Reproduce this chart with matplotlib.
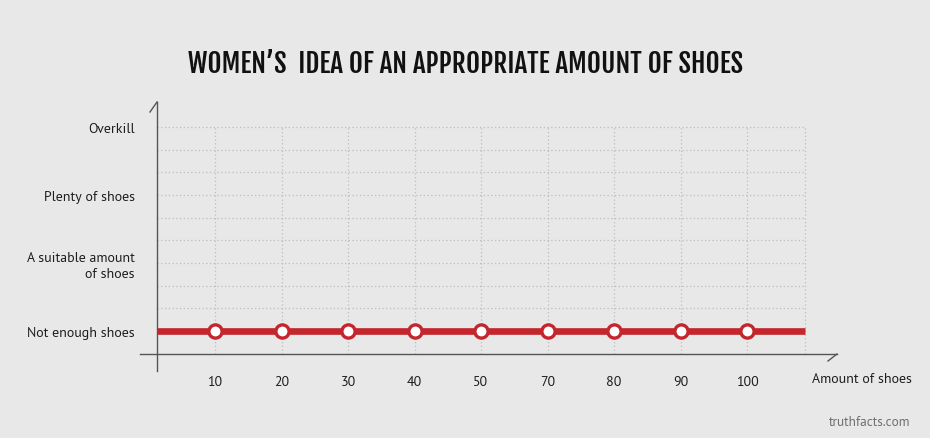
import numpy as np
import matplotlib.pyplot as plt
import matplotlib as mpl

mpl.rcParams['font.family'] = ['PT Sans', 'Open Sans', 'DejaVu Sans']

# data
levels = ['Not enough shoes', 'A suitable amount\nof shoes', 'Plenty of shoes', 'Overkill']
shoe_labels = ['10', '20', '30', '40', '50', '70', '80', '90', '100']
idea_level = [0, 0, 0, 0, 0, 0, 0, 0, 0]

bg = '#e8e8e8'
red = '#c4262e'
axis_col = '#555555'
grid_col = '#bdbdbd'

fig = plt.figure(figsize=(9.3, 4.39), dpi=100, facecolor=bg)
W, H = 930, 439
# axes spans pixel box 140..837 (x), 103..372 (y from top)
ax = fig.add_axes([140 / W, 1 - 372 / H, (837 - 140) / W, (372 - 103) / H])
ax.set_facecolor(bg)

xpos = np.arange(1, len(shoe_labels) + 1)
x0 = (157 - 148.5) / 66.5      # y-axis position
x1 = (805 - 148.5) / 66.5      # right end of grid
y0 = (332 - 355) / 68          # x-axis position
ax.set_xlim((140 - 148.5) / 66.5, (837 - 148.5) / 66.5)
ax.set_ylim((332 - 372) / 68, (332 - 103) / 68)

for s in ['top', 'right']:
    ax.spines[s].set_visible(False)
ax.spines['left'].set_position(('data', x0))
ax.spines['bottom'].set_position(('data', y0))
for s in ['left', 'bottom']:
    ax.spines[s].set_color(axis_col)
    ax.spines[s].set_linewidth(1)

# grid
top = len(levels) - 1
for gy in np.arange(0, top + 0.01, 1 / 3):
    ax.plot([x0, x1], [gy, gy], color=grid_col, lw=0.9, ls=(0, (1, 2)), zorder=1)
for gx in list(xpos) + [x1]:
    ax.plot([gx, gx], [y0, top], color=grid_col, lw=0.9, ls=(0, (1, 2)), zorder=1)

# slash ends of axes
px = 1 / 66.5
py = 1 / 68
ymax = (332 - 103) / 68
xmax = (837 - 148.5) / 66.5
ax.plot([x0 - 7 * px, x0], [ymax - 10 * py, ymax], color=axis_col, lw=1, clip_on=False)
ax.plot([xmax - 9 * px, xmax], [y0 - 7 * py, y0], color=axis_col, lw=1, clip_on=False)

# the line
ax.plot([x0, x1], [idea_level[0], idea_level[-1]], color=red, lw=4.8, solid_capstyle='butt', zorder=3)
ax.plot(xpos, idea_level, ls='none', marker='o', ms=9.5, mfc='white', mec=red, mew=2.4, zorder=4)

ax.set_xticks(xpos)
ax.set_xticklabels(shoe_labels)
ax.set_yticks(range(len(levels)))
ax.set_yticklabels(levels, linespacing=1.3)
ax.tick_params(axis='both', length=0, labelsize=10, colors='#1e1e1e')
ax.tick_params(axis='y', pad=16)
ax.tick_params(axis='x', pad=15)
for lab in ax.get_yticklabels():
    lab.set_horizontalalignment('right')

fig.text(812 / W, 1 - 380 / H, 'Amount of shoes', fontsize=10, color='#1e1e1e', va='center', ha='left')
fig.text(910 / W, 1 - 423 / H, 'truthfacts.com', fontsize=9.5, color='#6f6f6f', va='center', ha='right')
fig.text(465 / W, 1 - 64 / H, 'WOMEN\u2019S  IDEA OF AN APPROPRIATE AMOUNT OF SHOES',
         family=['Fjalla One', 'Oswald', 'DejaVu Sans'], fontsize=19.5,
         color='#111111', ha='center', va='center')

fig.savefig('out.png', dpi=100, facecolor=bg)
